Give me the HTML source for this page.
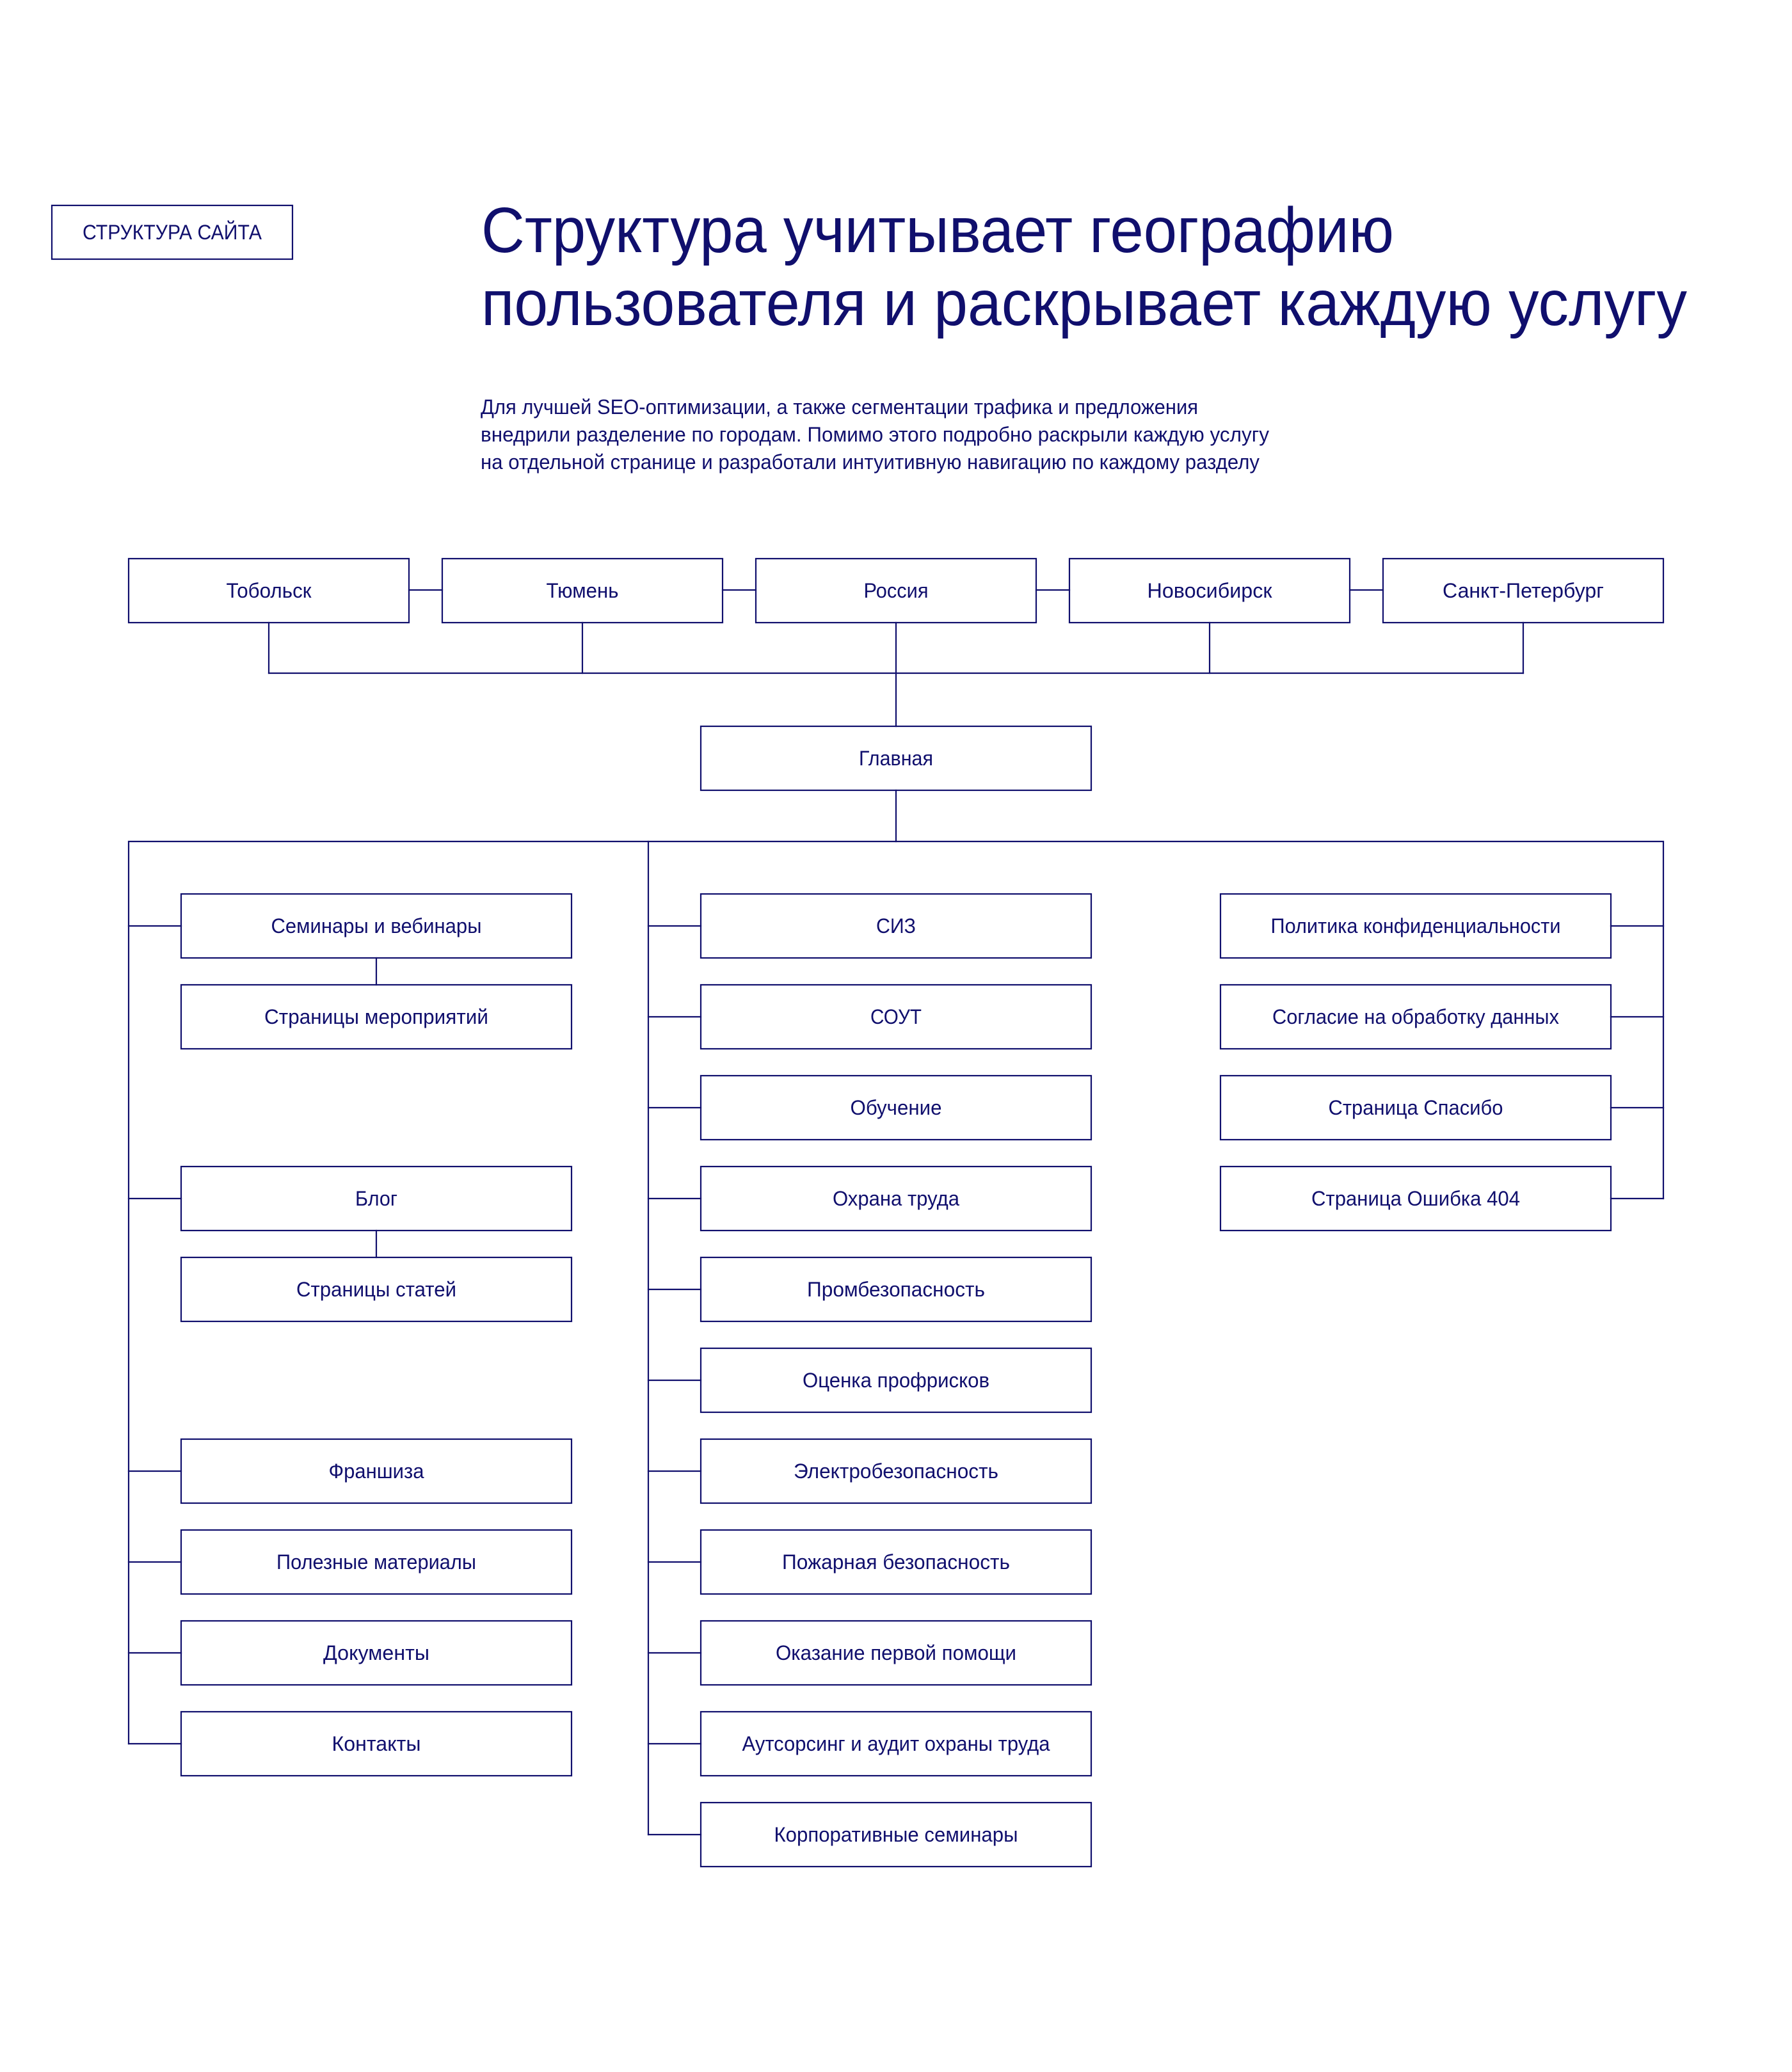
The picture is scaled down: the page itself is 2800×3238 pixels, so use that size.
<!DOCTYPE html>
<html>
<head>
<meta charset="utf-8">
<style>
  html, body { margin: 0; padding: 0; background: #ffffff; }
  svg { display: block; }
  text { font-family: "Liberation Sans", "Noto Sans CJK SC", sans-serif; fill: #100f6d; }
</style>
</head>
<body>
<svg width="2800" height="3238" viewBox="0 0 2800 3238" xmlns="http://www.w3.org/2000/svg">
  <rect x="0" y="0" width="2800" height="3238" fill="#ffffff"/>

  <!-- Tag -->
  <rect x="81" y="321" width="376" height="84" fill="none" stroke="#100f6d" stroke-width="2.2"/>
  <text x="269" y="374" font-size="32" text-anchor="middle" textLength="280" lengthAdjust="spacingAndGlyphs">СТРУКТУРА САЙТА</text>

  <!-- Title -->
  <text x="752" y="394" font-size="100" textLength="1426" lengthAdjust="spacingAndGlyphs">Структура учитывает географию</text>
  <text x="752" y="508" font-size="100" textLength="1884" lengthAdjust="spacingAndGlyphs">пользователя и раскрывает каждую услугу</text>

  <!-- Paragraph -->
  <text x="751" y="647" font-size="32" textLength="1121" lengthAdjust="spacingAndGlyphs">Для лучшей SEO-оптимизации, а также сегментации трафика и предложения</text>
  <text x="751" y="690" font-size="32" textLength="1232" lengthAdjust="spacingAndGlyphs">внедрили разделение по городам. Помимо этого подробно раскрыли каждую услугу</text>
  <text x="751" y="733" font-size="32" textLength="1217" lengthAdjust="spacingAndGlyphs">на отдельной странице и разработали интуитивную навигацию по каждому разделу</text>

  <g fill="none" stroke="#100f6d" stroke-width="2.2" stroke-linecap="square">
    <!-- City boxes -->
    <rect x="201" y="873" width="438" height="100"/>
    <rect x="691" y="873" width="438" height="100"/>
    <rect x="1181" y="873" width="438" height="100"/>
    <rect x="1671" y="873" width="438" height="100"/>
    <rect x="2161" y="873" width="438" height="100"/>
    <!-- City side connectors -->
    <line x1="639" y1="922" x2="691" y2="922"/>
    <line x1="1129" y1="922" x2="1181" y2="922"/>
    <line x1="1619" y1="922" x2="1671" y2="922"/>
    <line x1="2109" y1="922" x2="2161" y2="922"/>
    <!-- City down connectors -->
    <line x1="420" y1="973" x2="420" y2="1052"/>
    <line x1="910" y1="973" x2="910" y2="1052"/>
    <line x1="1400" y1="973" x2="1400" y2="1135"/>
    <line x1="1890" y1="973" x2="1890" y2="1052"/>
    <line x1="2380" y1="973" x2="2380" y2="1052"/>
    <line x1="420" y1="1052" x2="2380" y2="1052"/>

    <!-- Main -->
    <rect x="1095" y="1135" width="610" height="100"/>
    <line x1="1400" y1="1235" x2="1400" y2="1315"/>

    <!-- Bus -->
    <path d="M201 2725 L201 1315 L2599 1315 L2599 1873"/>
    <line x1="1013" y1="1315" x2="1013" y2="2867"/>

    <!-- Left column boxes -->
    <rect x="283" y="1397" width="610" height="100"/>
    <rect x="283" y="1539" width="610" height="100"/>
    <rect x="283" y="1823" width="610" height="100"/>
    <rect x="283" y="1965" width="610" height="100"/>
    <rect x="283" y="2249" width="610" height="100"/>
    <rect x="283" y="2391" width="610" height="100"/>
    <rect x="283" y="2533" width="610" height="100"/>
    <rect x="283" y="2675" width="610" height="100"/>
    <!-- Left connectors -->
    <line x1="201" y1="1447" x2="283" y2="1447"/>
    <line x1="201" y1="1873" x2="283" y2="1873"/>
    <line x1="201" y1="2299" x2="283" y2="2299"/>
    <line x1="201" y1="2441" x2="283" y2="2441"/>
    <line x1="201" y1="2583" x2="283" y2="2583"/>
    <line x1="201" y1="2725" x2="283" y2="2725"/>
    <line x1="588" y1="1497" x2="588" y2="1539"/>
    <line x1="588" y1="1923" x2="588" y2="1965"/>

    <!-- Middle column boxes -->
    <rect x="1095" y="1397" width="610" height="100"/>
    <rect x="1095" y="1539" width="610" height="100"/>
    <rect x="1095" y="1681" width="610" height="100"/>
    <rect x="1095" y="1823" width="610" height="100"/>
    <rect x="1095" y="1965" width="610" height="100"/>
    <rect x="1095" y="2107" width="610" height="100"/>
    <rect x="1095" y="2249" width="610" height="100"/>
    <rect x="1095" y="2391" width="610" height="100"/>
    <rect x="1095" y="2533" width="610" height="100"/>
    <rect x="1095" y="2675" width="610" height="100"/>
    <rect x="1095" y="2817" width="610" height="100"/>
    <!-- Middle connectors -->
    <line x1="1013" y1="1447" x2="1095" y2="1447"/>
    <line x1="1013" y1="1589" x2="1095" y2="1589"/>
    <line x1="1013" y1="1731" x2="1095" y2="1731"/>
    <line x1="1013" y1="1873" x2="1095" y2="1873"/>
    <line x1="1013" y1="2015" x2="1095" y2="2015"/>
    <line x1="1013" y1="2157" x2="1095" y2="2157"/>
    <line x1="1013" y1="2299" x2="1095" y2="2299"/>
    <line x1="1013" y1="2441" x2="1095" y2="2441"/>
    <line x1="1013" y1="2583" x2="1095" y2="2583"/>
    <line x1="1013" y1="2725" x2="1095" y2="2725"/>
    <line x1="1013" y1="2867" x2="1095" y2="2867"/>

    <!-- Right column boxes -->
    <rect x="1907" y="1397" width="610" height="100"/>
    <rect x="1907" y="1539" width="610" height="100"/>
    <rect x="1907" y="1681" width="610" height="100"/>
    <rect x="1907" y="1823" width="610" height="100"/>
    <!-- Right connectors -->
    <line x1="2517" y1="1447" x2="2599" y2="1447"/>
    <line x1="2517" y1="1589" x2="2599" y2="1589"/>
    <line x1="2517" y1="1731" x2="2599" y2="1731"/>
    <line x1="2517" y1="1873" x2="2599" y2="1873"/>
  </g>

  <!-- City labels -->
  <g font-size="32" text-anchor="middle">
    <text x="420" y="934" textLength="133" lengthAdjust="spacingAndGlyphs">Тобольск</text>
    <text x="910" y="934" textLength="113" lengthAdjust="spacingAndGlyphs">Тюмень</text>
    <text x="1400" y="934" textLength="101" lengthAdjust="spacingAndGlyphs">Россия</text>
    <text x="1890" y="934" textLength="195" lengthAdjust="spacingAndGlyphs">Новосибирск</text>
    <text x="2380" y="934" textLength="252" lengthAdjust="spacingAndGlyphs">Санкт-Петербург</text>

    <text x="1400" y="1196" textLength="116" lengthAdjust="spacingAndGlyphs">Главная</text>

    <!-- Left column labels -->
    <text x="588" y="1458" textLength="329" lengthAdjust="spacingAndGlyphs">Семинары и вебинары</text>
    <text x="588" y="1600" textLength="350" lengthAdjust="spacingAndGlyphs">Страницы мероприятий</text>
    <text x="588" y="1884" textLength="66" lengthAdjust="spacingAndGlyphs">Блог</text>
    <text x="588" y="2026" textLength="250" lengthAdjust="spacingAndGlyphs">Страницы статей</text>
    <text x="588" y="2310" textLength="149" lengthAdjust="spacingAndGlyphs">Франшиза</text>
    <text x="588" y="2452" textLength="312" lengthAdjust="spacingAndGlyphs">Полезные материалы</text>
    <text x="588" y="2594" textLength="166" lengthAdjust="spacingAndGlyphs">Документы</text>
    <text x="588" y="2736" textLength="139" lengthAdjust="spacingAndGlyphs">Контакты</text>

    <!-- Middle column labels -->
    <text x="1400" y="1458" textLength="62" lengthAdjust="spacingAndGlyphs">СИЗ</text>
    <text x="1400" y="1600" textLength="80" lengthAdjust="spacingAndGlyphs">СОУТ</text>
    <text x="1400" y="1742" textLength="143" lengthAdjust="spacingAndGlyphs">Обучение</text>
    <text x="1400" y="1884" textLength="198" lengthAdjust="spacingAndGlyphs">Охрана труда</text>
    <text x="1400" y="2026" textLength="278" lengthAdjust="spacingAndGlyphs">Промбезопасность</text>
    <text x="1400" y="2168" textLength="292" lengthAdjust="spacingAndGlyphs">Оценка профрисков</text>
    <text x="1400" y="2310" textLength="320" lengthAdjust="spacingAndGlyphs">Электробезопасность</text>
    <text x="1400" y="2452" textLength="356" lengthAdjust="spacingAndGlyphs">Пожарная безопасность</text>
    <text x="1400" y="2594" textLength="376" lengthAdjust="spacingAndGlyphs">Оказание первой помощи</text>
    <text x="1400" y="2736" textLength="481" lengthAdjust="spacingAndGlyphs">Аутсорсинг и аудит охраны труда</text>
    <text x="1400" y="2878" textLength="381" lengthAdjust="spacingAndGlyphs">Корпоративные семинары</text>

    <!-- Right column labels -->
    <text x="2212" y="1458" textLength="453" lengthAdjust="spacingAndGlyphs">Политика конфиденциальности</text>
    <text x="2212" y="1600" textLength="448" lengthAdjust="spacingAndGlyphs">Согласие на обработку данных</text>
    <text x="2212" y="1742" textLength="273" lengthAdjust="spacingAndGlyphs">Страница Спасибо</text>
    <text x="2212" y="1884" textLength="326" lengthAdjust="spacingAndGlyphs">Страница Ошибка 404</text>
  </g>
</svg>
</body>
</html>
